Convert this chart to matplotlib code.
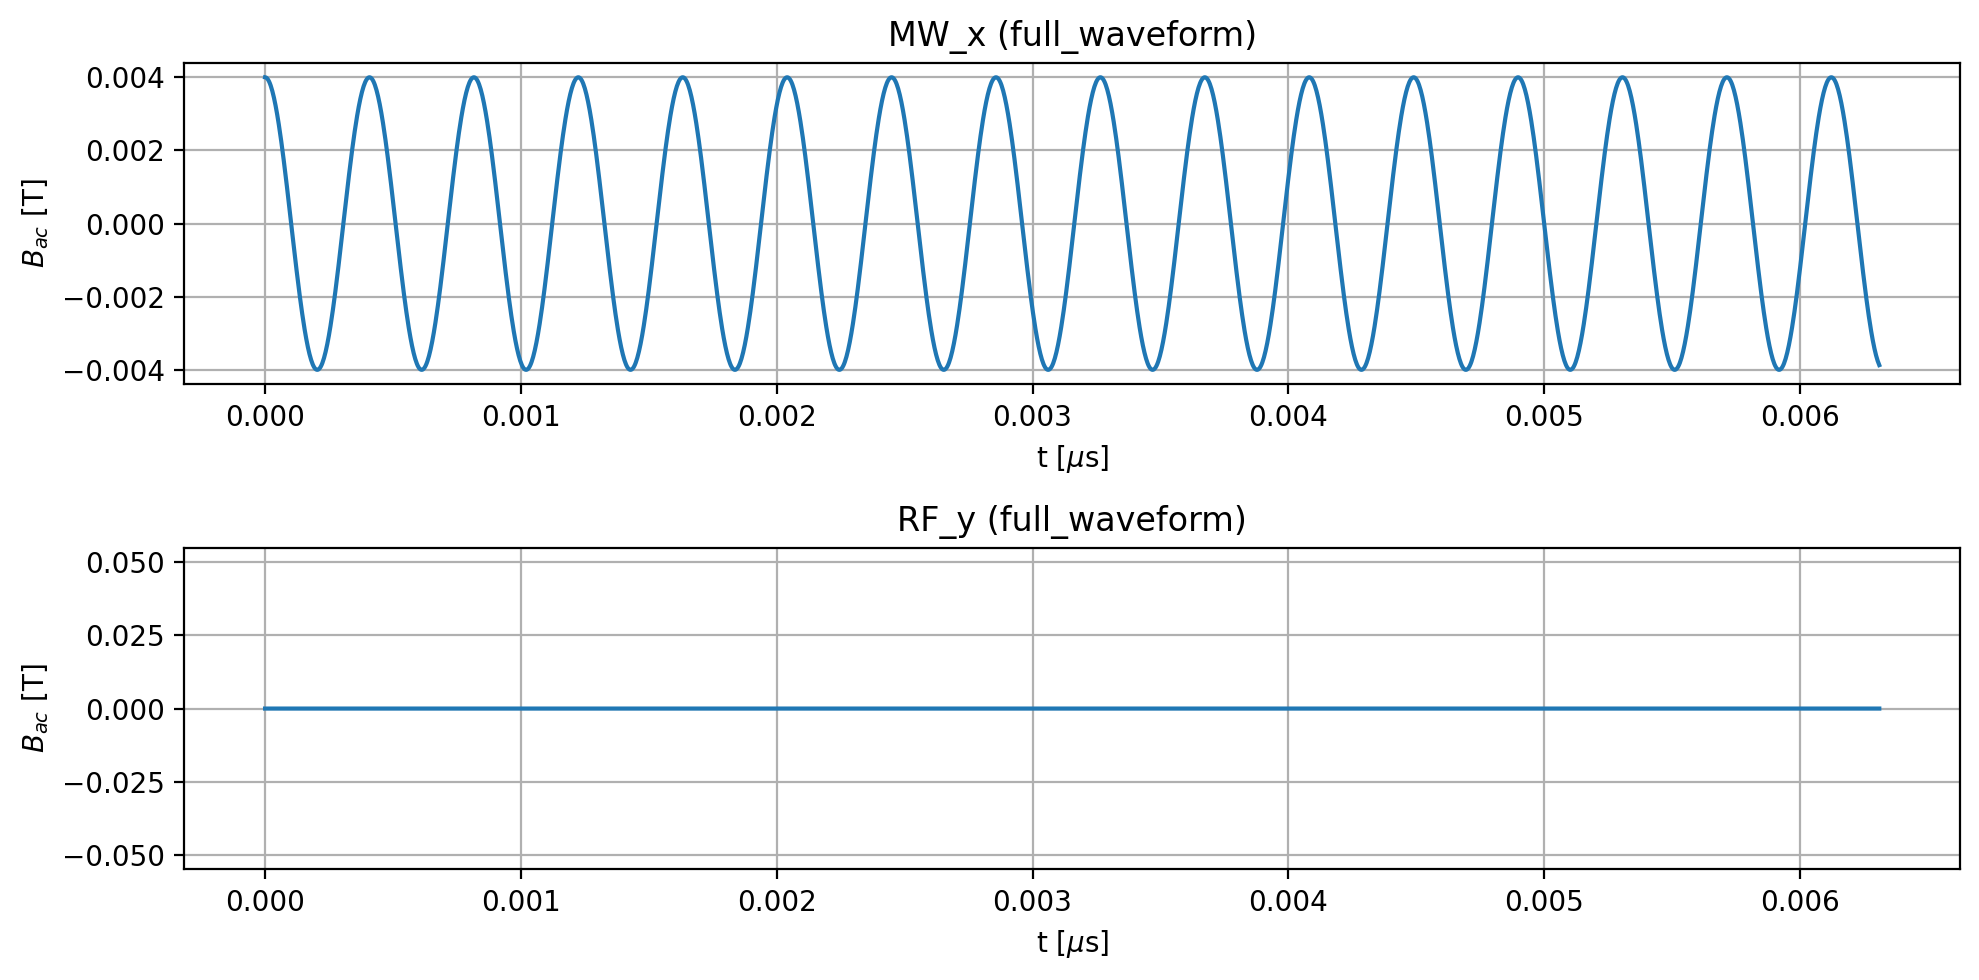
import numpy as np
import matplotlib
matplotlib.use("Agg")
import matplotlib.pyplot as plt

# waveform parameters
mw_amplitude = 0.004      # T
mw_freq = 2450.0          # cycles per microsecond (2.45 GHz)
t_end = 0.00631           # us
n_samples = 2000
rf_amplitude = 0.0        # RF_y channel is flat

t = np.linspace(0, t_end, n_samples)
mw_x = mw_amplitude * np.cos(2 * np.pi * mw_freq * t)
rf_y = rf_amplitude * np.ones_like(t)

channels = [("MW_x (full_waveform)", mw_x), ("RF_y (full_waveform)", rf_y)]

fig, axes = plt.subplots(2, 1, figsize=(10, 5), dpi=200)
for ax, (title, vals) in zip(axes, channels):
    ax.plot(t, vals, color="#1f77b4")
    ax.set_title(title)
    ax.set_xlabel(r"t [$\mu$s]")
    ax.set_ylabel(r"$B_{ac}$ [T]")
    ax.grid(True)

fig.tight_layout()
fig.savefig("out.png", dpi=200, bbox_inches="tight")
